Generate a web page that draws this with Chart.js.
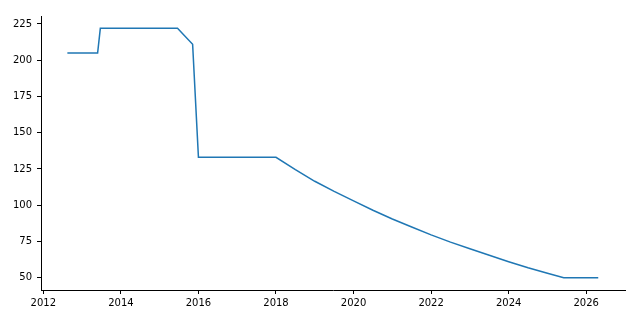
<!DOCTYPE html>
<html>
<head>
<meta charset="utf-8">
<script src="https://cdn.jsdelivr.net/npm/chart.js@4/dist/chart.umd.min.js"></script>
<style>
html,body{margin:0;padding:0;background:#fff;}
#wrap{width:640px;height:320px;position:relative;}
</style>
</head>
<body>
<div id="wrap"><canvas id="c" width="640" height="320"></canvas></div>
<script>
// Data
const years = [2012.62, 2013.40, 2013.47, 2015.46, 2015.85, 2016.00, 2018.00, 2018.5, 2019.0, 2019.5, 2020.0, 2020.5, 2021.0, 2021.5, 2022.0, 2022.5, 2023.0, 2023.5, 2024.0, 2024.5, 2025.0, 2025.42, 2026.31];
const values = [205, 205, 222, 222, 211, 133, 133, 124.5, 116.5, 109.5, 103, 96.5, 90.5, 85, 79.5, 74.5, 70, 65.5, 61, 56.8, 53, 50, 50];
const xTicks = [2012, 2014, 2016, 2018, 2020, 2022, 2024, 2026];
const yTicks = [50, 75, 100, 125, 150, 175, 200, 225];

const points = years.map((x, i) => ({x: x, y: values[i]}));
const font = {family: 'DejaVu Sans', size: 10};

new Chart(document.getElementById('c'), {
  type: 'line',
  data: {
    datasets: [{
      data: points,
      borderColor: '#1f77b4',
      borderWidth: 1.5,
      pointRadius: 0,
      tension: 0,
      fill: false
    }]
  },
  options: {
    responsive: false,
    animation: false,
    layout: {padding: {top: 16, right: 15, left: 0, bottom: 0}},
    plugins: {legend: {display: false}, tooltip: {enabled: false}},
    scales: {
      x: {
        type: 'linear',
        min: 2011.94,
        max: 2027.0,
        afterBuildTicks: s => { s.ticks = xTicks.map(v => ({value: v})); },
        afterFit: s => { s.height = 30; },
        grid: {drawOnChartArea: false, drawTicks: true, tickLength: 4, tickColor: '#000', tickWidth: 1},
        border: {display: true, color: '#000', width: 1},
        ticks: {color: '#000', font: font, padding: 3, maxRotation: 0, autoSkip: false, callback: v => String(v)}
      },
      y: {
        type: 'linear',
        min: 41.5,
        max: 230.5,
        afterBuildTicks: s => { s.ticks = yTicks.map(v => ({value: v})); },
        afterFit: s => { s.width = 41; },
        grid: {drawOnChartArea: false, drawTicks: true, tickLength: 4, tickColor: '#000', tickWidth: 1},
        border: {display: true, color: '#000', width: 1},
        ticks: {color: '#000', font: font, padding: 5, autoSkip: false, callback: v => String(v)}
      }
    }
  }
});
</script>
</body>
</html>
